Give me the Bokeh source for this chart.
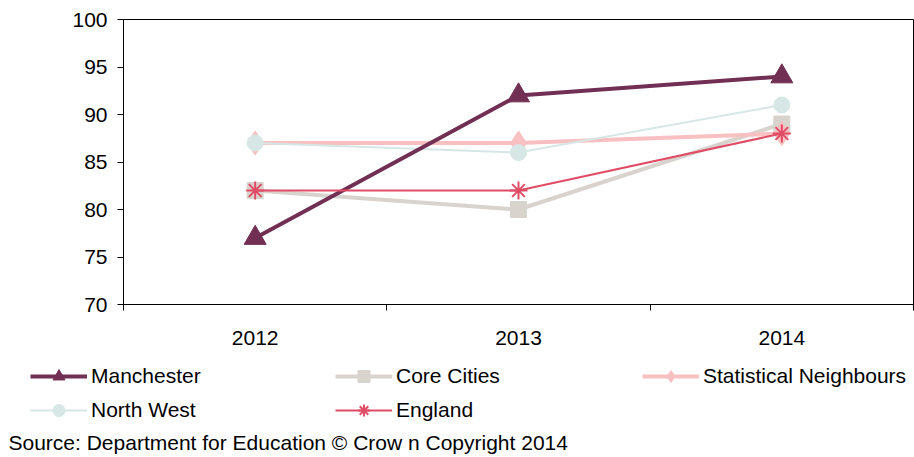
from bokeh.plotting import figure
from bokeh.models import (Legend, LegendItem, Label, FixedTicker, Range1d,
                          LinearAxis)
from bokeh.embed import file_html
from bokeh.resources import INLINE

years = ["2012", "2013", "2014"]
manchester = [77, 92, 94]
core_cities = [82, 80, 89]
stat_neighbours = [87, 87, 88]
north_west = [87, 86, 91]
england = [82, 82, 88]
y_ticks = [70, 75, 80, 85, 90, 95, 100]
source_text = "Source: Department for Education \u00a9 Crow n Copyright 2014"

FONT = "Liberation Sans"
FS = "21px"

c_man = "#722F54"
c_core = "#D9D3CE"
c_stat = "#F8C0C0"
c_nw = "#D6E7E6"
c_eng = "#E04C66"

# series styling: (name, values, colour, line width, marker, marker size)
series = [
    ("Core Cities", core_cities, c_core, 4, "square", 16),
    ("Statistical Neighbours", stat_neighbours, c_stat, 4, "diamond", 24),
    ("North West", north_west, c_nw, 2, "circle", 16),
    ("Manchester", manchester, c_man, 4, "triangle", 22),
    ("England", england, c_eng, 2, "asterisk", 18),
]

W, H = 914, 457
# plot box inside the canvas (pixels): left/right/top/bottom
BOX_L, BOX_R, BOX_T, BOX_B = 123, 913, 19, 304
n = len(years)
xs = list(range(n))
px_per_x = (BOX_R - BOX_L) / n
px_per_y = (BOX_B - BOX_T) / (y_ticks[-1] - y_ticks[0])
x0 = -0.5 - BOX_L / px_per_x
x1 = n - 0.5 + (W - BOX_R) / px_per_x
y1 = y_ticks[-1] + BOX_T / px_per_y
y0 = y_ticks[0] - (H - BOX_B) / px_per_y

p = figure(width=W, height=H, output_backend="svg", toolbar_location=None,
           min_border=0, x_range=Range1d(x0, x1), y_range=Range1d(y0, y1),
           x_axis_location=None, y_axis_location=None)
p.outline_line_color = None
p.grid.visible = False
p.background_fill_color = "white"

# axes drawn at fixed positions inside the canvas
yax = LinearAxis(fixed_location=-0.5, bounds=(y_ticks[0], y_ticks[-1]),
                 ticker=FixedTicker(ticks=y_ticks))
yax.minor_tick_line_color = None
yax.major_tick_out = 6
yax.major_tick_in = 0
yax.major_label_standoff = 10
yax.major_label_text_font = FONT
yax.major_label_text_font_size = FS
yax.major_label_text_color = "#000000"
yax.axis_line_color = "#000000"
p.add_layout(yax, "left")

xax = LinearAxis(fixed_location=y_ticks[0], bounds=(-0.5, n - 0.5),
                 ticker=FixedTicker(ticks=xs, minor_ticks=[i - 0.5 for i in range(n + 1)]),
                 major_label_overrides={i: y for i, y in enumerate(years)})
xax.major_tick_line_color = None
xax.major_tick_out = 0
xax.minor_tick_out = 6
xax.minor_tick_in = 0
xax.minor_tick_line_color = "#000000"
xax.major_label_standoff = 20
xax.major_label_text_font = FONT
xax.major_label_text_font_size = FS
xax.major_label_text_color = "#000000"
xax.axis_line_color = "#000000"
p.add_layout(xax, "below")

# plot area border
p.quad(left=-0.5, right=n - 0.5, bottom=y_ticks[0], top=y_ticks[-1],
       fill_color=None, line_color="#000000", line_width=1)

rend = {}
for name, vals, col, lw, mk, sz in series:
    l = p.line(xs, vals, line_color=col, line_width=lw)
    if mk == "asterisk":
        m = p.scatter(xs, vals, marker=mk, size=sz, line_color=col, line_width=2)
    else:
        m = p.scatter(xs, vals, marker=mk, size=sz, fill_color=col, line_color=col)
    rend[name] = [l, m]

def make_legend(names, loc):
    return Legend(items=[LegendItem(label=nm, renderers=rend[nm]) for nm in names],
                  location=loc, orientation="vertical", glyph_width=57,
                  glyph_height=30, label_standoff=4, label_text_font=FONT,
                  label_text_font_size=FS, label_text_color="#000000",
                  spacing=4, padding=0, margin=0, border_line_alpha=0,
                  background_fill_alpha=0)

p.add_layout(make_legend(["Manchester", "North West"], (30, 32)), "center")
p.add_layout(make_legend(["Core Cities", "England"], (335, 32)), "center")
p.add_layout(make_legend(["Statistical Neighbours"], (642, 66)), "center")

p.add_layout(Label(x=8, y=15, x_units="screen", y_units="screen", text=source_text,
                   text_baseline="middle", text_font=FONT, text_font_size=FS,
                   text_color="#000000"))

open("out.html", "w").write(file_html(p, INLINE))
